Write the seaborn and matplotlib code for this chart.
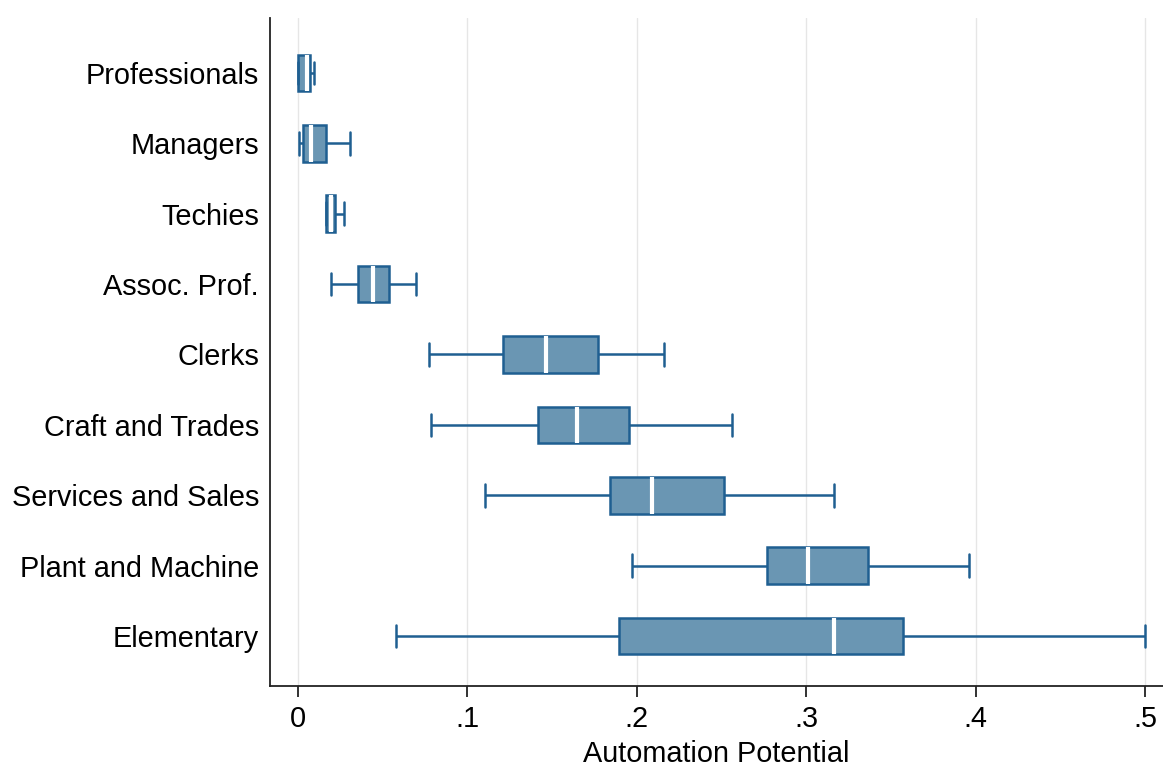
import numpy as np
import pandas as pd
import matplotlib
matplotlib.use('agg')
import matplotlib.pyplot as plt
import seaborn as sns

# occupation groups, top to bottom
groups = ['Professionals', 'Managers', 'Techies', 'Assoc. Prof.', 'Clerks',
          'Craft and Trades', 'Services and Sales', 'Plant and Machine', 'Elementary']
# box summary: lower whisker, q1, median, q3, upper whisker
lower = [0.0000, 0.0006, 0.0163, 0.0195, 0.0775, 0.0783, 0.1102, 0.1972, 0.0579]
q1 = [0.0000, 0.0031, 0.0163, 0.0356, 0.1210, 0.1415, 0.1842, 0.2766, 0.1892]
median = [0.0051, 0.0079, 0.0195, 0.0445, 0.1462, 0.1645, 0.2088, 0.3008, 0.3161]
q3 = [0.0071, 0.0163, 0.0218, 0.0537, 0.1773, 0.1956, 0.2515, 0.3365, 0.3571]
upper = [0.0096, 0.0307, 0.0272, 0.0697, 0.2159, 0.2560, 0.3164, 0.3958, 0.5000]

# five points per group reproduce the summary exactly with linear quantiles
rows = []
for i, g in enumerate(groups):
    for v in (lower[i], q1[i], median[i], q3[i], upper[i]):
        rows.append({'group': g, 'value': v})
dfrm = pd.DataFrame(rows)

sns.set_style('white')
plt.rcParams['font.family'] = ['Liberation Sans', 'DejaVu Sans']
plt.rcParams['text.color'] = 'black'
plt.rcParams['xtick.color'] = 'black'
plt.rcParams['ytick.color'] = 'black'
plt.rcParams['axes.labelcolor'] = 'black'

edge = '#1f5f91'
fill = '#6a96b3'
fsize = 20.8

fig = plt.figure(figsize=(11.63, 7.72), dpi=100)
ax = fig.add_axes([0.2322, 0.1114, 0.7678, 0.8653])

ax.grid(axis='x', color='#e6e6e6', lw=1.0, zorder=0)
ax.set_axisbelow(True)

sns.boxplot(data=dfrm, x='value', y='group', order=groups, orient='h',
            whis=(0, 100), width=0.52, color=fill, linecolor=edge, linewidth=1.8,
            saturation=1, showfliers=False, ax=ax,
            boxprops={'facecolor': fill, 'edgecolor': edge},
            medianprops={'color': 'white', 'linewidth': 3.0},
            whiskerprops={'color': edge}, capprops={'color': edge},
            capwidths=0.32)

ax.set_xlim(-0.0165, 0.5106)
ax.set_ylim(8.71, -0.78)
ax.set_xticks([0, .1, .2, .3, .4, .5])
ax.set_xticklabels(['0', '.1', '.2', '.3', '.4', '.5'], fontsize=fsize)
ax.tick_params(axis='x', direction='out', length=8, width=1.3, color='#222222',
               pad=6, bottom=True)
ax.tick_params(axis='y', length=0, labelsize=fsize, pad=8)
ax.set_xlabel('Automation Potential', fontsize=fsize, labelpad=5)
ax.set_ylabel('')

for side in ('top', 'right'):
    ax.spines[side].set_visible(False)
for side in ('left', 'bottom'):
    ax.spines[side].set_color('#222222')
    ax.spines[side].set_linewidth(1.3)

fig.savefig('out.png', dpi=100)
